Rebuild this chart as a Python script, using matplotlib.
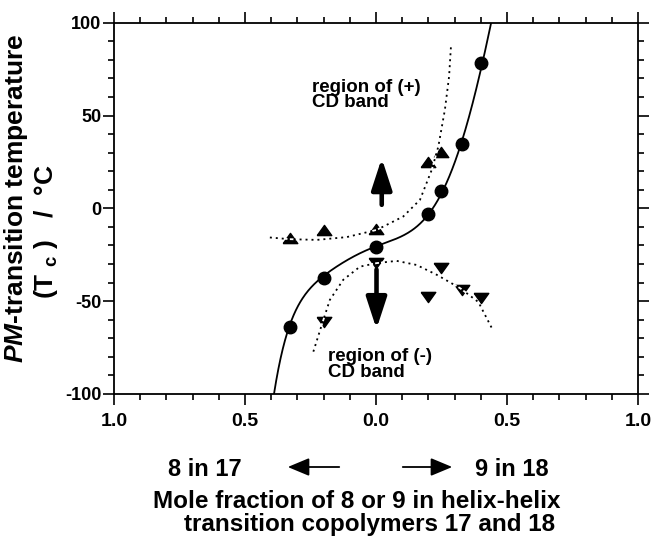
import matplotlib
matplotlib.use("Agg")
import numpy as np
import matplotlib.pyplot as plt
from matplotlib.ticker import MultipleLocator, FixedLocator, FuncFormatter
from matplotlib.patches import FancyArrowPatch

plt.rcParams['font.family'] = ['Liberation Sans', 'DejaVu Sans']
plt.rcParams['font.weight'] = 'bold'
plt.rcParams['mathtext.fontset'] = 'custom'
plt.rcParams['mathtext.rm'] = 'Liberation Sans:bold'
plt.rcParams['mathtext.it'] = 'Liberation Sans:bold:italic'
plt.rcParams['mathtext.bf'] = 'Liberation Sans:bold'

# ---- data (x < 0 : mole fraction of 8 in 17 ; x > 0 : mole fraction of 9 in 18)
circle_x = [-0.33, -0.20, 0.00, 0.20, 0.25, 0.33, 0.40]
circle_y = [-63.7, -37.7, -20.6, -3.0, 9.5, 34.4, 78.3]

up_x = [-0.33, -0.20, 0.00, 0.20, 0.25]
up_y = [-16.1, -11.6, -11.2, 24.9, 30.6]

down_x = [-0.20, 0.00, 0.20, 0.25, 0.33, 0.40]
down_y = [-61.0, -29.5, -47.5, -32.2, -43.9, -48.4]

# fitted curve
fit_x = [-0.389, -0.366, -0.331, -0.277, -0.201, -0.112, 0.0, 0.092, 0.155, 0.20, 0.232,
         0.251, 0.289, 0.329, 0.365, 0.401, 0.441]
fit_y = [-100, -81.7, -63.7, -47.5, -37.6, -26.9, -20.6, -16.1, -10.7, -3.0, 4.6,
         9.4, 20.8, 34.2, 53.1, 78.3, 100]

# dotted boundary of (+) region
plus_x = [-0.405, -0.331, -0.226, -0.112, 0.003, 0.104, 0.168, 0.213, 0.238, 0.263, 0.279, 0.286]
plus_y = [-15.7, -16.6, -17.0, -15.5, -11.6, -4.4, 4.6, 20.8, 33.3, 53.1, 71.0, 86.8]

# dotted boundary of (-) region
minus_x = [-0.239, -0.207, -0.176, -0.125, -0.061, 0.003, 0.079, 0.155, 0.232, 0.321, 0.391, 0.441]
minus_y = [-77.2, -62.8, -49.3, -38.5, -31.4, -29.5, -28.3, -30.5, -35.8, -43.0, -50.5, -64.2]

xtick_vals = [-1.0, -0.5, 0.0, 0.5, 1.0]
ytick_vals = [-100, -50, 0, 50, 100]

fig = plt.figure(figsize=(6.52, 5.38), dpi=100)
ax = fig.add_axes([0.1748, 0.2677, 0.9785 - 0.1748, 0.9578 - 0.2677])

up_tri = [(-1, -0.7), (1, -0.7), (0, 0.7), (-1, -0.7)]
down_tri = [(-1, 0.7), (1, 0.7), (0, -0.7), (-1, 0.7)]

# smooth version of the traced fitted curve
poly = np.polynomial.Polynomial.fit(fit_x, fit_y, 7)
xs = np.linspace(min(fit_x), max(fit_x), 300)
ax.plot(xs, poly(xs), color='black', lw=1.3, zorder=2)

ax.plot(circle_x, circle_y, 'o', color='black', ms=9, zorder=3)
ax.plot(up_x, up_y, linestyle='none', marker=up_tri, color='black', ms=10.5, zorder=3)
ax.plot(down_x, down_y, linestyle='none', marker=down_tri, color='black', ms=10.5, zorder=3)

# arrows
astyle = '-|>,head_length=1.9,head_width=0.62'
ax.annotate('', xy=(0.022, 27.0), xytext=(0.022, 1.9),
            arrowprops=dict(arrowstyle=astyle, lw=3.3, color='black', shrinkA=0, shrinkB=0))
ax.annotate('', xy=(0.002, -65.0), xytext=(0.002, -33),
            arrowprops=dict(arrowstyle=astyle, lw=3.3, color='black', shrinkA=0, shrinkB=0))

# dotted boundaries (white gaps, drawn on top)
ax.plot(plus_x, plus_y, color='black', lw=1.3, linestyle=(0, (1.1, 2.2)), gapcolor='white',
        zorder=5)
ax.plot(minus_x, minus_y, color='black', lw=1.3, linestyle=(0, (1.1, 2.2)), gapcolor='white',
        zorder=5)

ax.text(-0.244, 61.2, 'region of (+)\nCD band', fontsize=13.5, fontweight='bold',
        ha='left', va='center', linespacing=0.88)
ax.text(-0.183, -84.1, 'region of (-)\nCD band', fontsize=13.5, fontweight='bold',
        ha='left', va='center', linespacing=0.88)

ax.set_xlim(-1, 1)
ax.set_ylim(-100, 100)
ax.xaxis.set_major_locator(FixedLocator(xtick_vals))
ax.xaxis.set_minor_locator(MultipleLocator(0.1))
ax.yaxis.set_major_locator(FixedLocator(ytick_vals))
ax.yaxis.set_minor_locator(MultipleLocator(10))
ax.xaxis.set_major_formatter(FuncFormatter(lambda v, p: f'{abs(v):.1f}'))
ax.yaxis.set_major_formatter(FuncFormatter(lambda v, p: f'{int(v)}'))

ax.tick_params(which='both', direction='out', top=True, right=True, width=1.2, colors='black')
ax.tick_params(which='major', length=8)
ax.tick_params(which='minor', length=4.5)
ax.tick_params(axis='x', which='major', labelsize=14, pad=6)
ax.tick_params(axis='y', which='major', labelsize=13, pad=1)
for lab in ax.get_xticklabels() + ax.get_yticklabels():
    lab.set_fontweight('bold')
for s in ax.spines.values():
    s.set_linewidth(1.3)

# y label (two lines)
fig.text(16 / 652, 1 - 198 / 538, r'$\mathit{PM}$-transition temperature', rotation=90,
         ha='center', va='center', fontsize=19, fontweight='bold')
fig.text(46 / 652, 1 - 232 / 538, r'(T $_{\mathrm{c}}$ )   /  °C', rotation=90,
         ha='center', va='center', fontsize=19, fontweight='bold')

# bottom annotation
fig.text(205 / 652, 1 - 469 / 538, '8 in 17', ha='center', va='center', fontsize=17,
         fontweight='bold')
fig.text(512 / 652, 1 - 469 / 538, '9 in 18', ha='center', va='center', fontsize=17,
         fontweight='bold')
fig.add_artist(FancyArrowPatch((342 / 652, 1 - 467 / 538), (285 / 652, 1 - 467 / 538),
               transform=fig.transFigure, arrowstyle='-|>,head_length=6,head_width=2.5',
               mutation_scale=2.2, lw=1.3, color='black'))
fig.add_artist(FancyArrowPatch((400 / 652, 1 - 467 / 538), (455 / 652, 1 - 467 / 538),
               transform=fig.transFigure, arrowstyle='-|>,head_length=6,head_width=2.5',
               mutation_scale=2.2, lw=1.3, color='black'))

fig.text(357 / 652, 1 - 502 / 538, 'Mole fraction of 8 or 9 in helix-helix', ha='center',
         va='center', fontsize=17.5, fontweight='bold')
fig.text(370 / 652, 1 - 525 / 538, 'transition copolymers 17 and 18', ha='center',
         va='center', fontsize=17.5, fontweight='bold')

fig.savefig('out.png', dpi=100)
